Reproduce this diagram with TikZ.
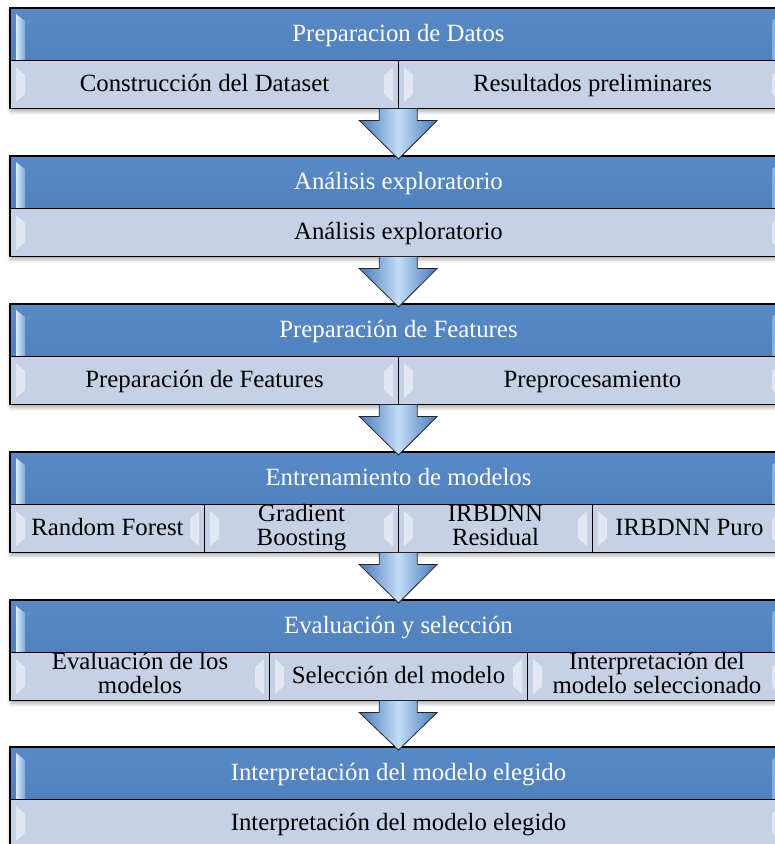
\documentclass[tikz,border=0pt]{standalone}
\usepackage{fontspec}
\setmainfont{Liberation Serif}
\usetikzlibrary{calc,shadows.blur}
\definecolor{hdrblue}{HTML}{4F81BD}
\definecolor{hdrtop}{HTML}{5A8AC5}
\definecolor{subfill}{HTML}{C6D1E6}
\definecolor{hllight}{HTML}{DCEBFB}
\definecolor{hldark}{HTML}{7FA8DA}
\definecolor{arrblue}{HTML}{4676BA}
\definecolor{arrlight}{HTML}{C3DDF7}
\newcommand\txtfont{\fontsize{24.8}{24}\selectfont}
\tikzset{
 blockbg/.style={fill=subfill, minimum width=776pt, minimum height=100pt, anchor=north west, inner sep=0pt,
   blur shadow={shadow xshift=0.5pt, shadow yshift=-3pt, shadow blur radius=4pt, shadow opacity=35}},
 outerframe/.style={draw=black, line width=1.7pt},
 hdr/.style={draw=black, line width=1pt, top color=hdrtop, bottom color=hdrblue, text=white,
   minimum width=776pt, minimum height=52pt, anchor=north west, inner sep=0pt, font=\txtfont,
   text height=19pt, text depth=5pt},
 subbox/.style={draw=black, line width=1pt, fill=subfill, text=black, minimum height=48pt,
   anchor=north west, inner sep=0pt, align=center, font=\txtfont,
   execute at begin node=\strut, execute at end node=\strut},
 oneline/.style={draw=black, line width=1pt, fill=subfill, text=black, minimum height=48pt,
   anchor=north west, inner sep=0pt, font=\txtfont, text height=19pt, text depth=5pt},
 hlbar/.style={left color=hllight, right color=hldark, draw=none},
 hlbarR/.style={left color=hldark, right color=hllight, draw=none},
 chev/.style={fill=white, fill opacity=0.5, draw=none},
 bigarrow/.style={draw=black!85, line width=0.8pt, left color=arrblue, right color=arrblue,
   middle color=arrlight, line join=miter},
}
\newcommand\hlLR[1]{%
 \path[hlbar] ($(#1.north west)+(6,6)$) -- ($(#1.north west)+(15,13)$) -- ($(#1.south west)+(15,-1)$) -- ($(#1.south west)+(6,-1)$) -- cycle;
 \path[hlbarR] ($(#1.north east)+(-6,6)$) -- ($(#1.north east)+(-15,13)$) -- ($(#1.south east)+(-15,-1)$) -- ($(#1.south east)+(-6,-1)$) -- cycle;}
\newcommand\chevLR[1]{%
 \path[chev] ($(#1.north west)+(6,7)$) -- ($(#1.north west)+(15,15)$) -- ($(#1.south west)+(15,-15)$) -- ($(#1.south west)+(6,-7)$) -- cycle;
 \path[chev] ($(#1.north east)+(-6,7)$) -- ($(#1.north east)+(-15,15)$) -- ($(#1.south east)+(-15,-15)$) -- ($(#1.south east)+(-6,-7)$) -- cycle;}
\newcommand\blockhead[3]{%
 \node[blockbg] (b#1) at (10,#2) {};
 \node[hdr] (h#1) at (10,#2) {#3};
 \hlLR{h#1}}
\newcommand\blockframe[1]{\draw[outerframe] (b#1.north west) rectangle (b#1.south east);}
\newcommand\flowarrow[2]{%
 \draw[bigarrow] ($(b#1.south)+(-19,0)$) -- ($(b#1.south)+(-19,12)$) -- ($(b#1.south)+(-39,12)$)
   -- ($(h#2.north)+(0,3)$) -- ($(b#1.south)+(39,12)$) -- ($(b#1.south)+(19,12)$)
   -- ($(b#1.south)+(19,0)$) -- cycle;}
\begin{document}
\begin{tikzpicture}[x=1pt,y=-1pt]
\useasboundingbox (0,0) rectangle (775,844);
\clip (0,0) rectangle (775,844);
% Block 1
\blockhead{1}{8}{Preparacion de Datos}
\node[oneline, minimum width=388pt] (s1a) at (10,60) {Construcción del Dataset};
\node[oneline, minimum width=388pt] (s1b) at (398,60) {Resultados preliminares};
\chevLR{s1a}\chevLR{s1b}
\blockframe{1}
% Block 2
\blockhead{2}{156}{Análisis exploratorio}
\node[oneline, minimum width=776pt] (s2a) at (10,208) {Análisis exploratorio};
\chevLR{s2a}
\blockframe{2}
% Block 3
\blockhead{3}{304}{Preparación de Features}
\node[oneline, minimum width=388pt] (s3a) at (10,356) {Preparación de Features};
\node[oneline, minimum width=388pt] (s3b) at (398,356) {Preprocesamiento};
\chevLR{s3a}\chevLR{s3b}
\blockframe{3}
% Block 4
\blockhead{4}{452}{Entrenamiento de modelos}
\node[oneline, minimum width=194pt] (s4a) at (10,504) {Random Forest};
\node[subbox, minimum width=194pt] (s4b) at (204,504) {Gradient\\Boosting};
\node[subbox, minimum width=194pt] (s4c) at (398,504) {IRBDNN\\Residual};
\node[oneline, minimum width=194pt] (s4d) at (592,504) {IRBDNN Puro};
\chevLR{s4a}\chevLR{s4b}\chevLR{s4c}\chevLR{s4d}
\blockframe{4}
% Block 5
\blockhead{5}{600}{Evaluación y selección}
\node[subbox, minimum width=259pt] (s5a) at (10,652) {Evaluación de los\\modelos};
\node[oneline, minimum width=258pt] (s5b) at (269,652) {Selección del modelo};
\node[subbox, minimum width=259pt] (s5c) at (527,652) {Interpretación del\\modelo seleccionado};
\chevLR{s5a}\chevLR{s5b}\chevLR{s5c}
\blockframe{5}
% Block 6
\blockhead{6}{747}{Interpretación del modelo elegido}
\node[oneline, minimum width=776pt] (s6a) at (10,799) {Interpretación del modelo elegido};
\chevLR{s6a}
\blockframe{6}
% Arrows
\flowarrow{1}{2}
\flowarrow{2}{3}
\flowarrow{3}{4}
\flowarrow{4}{5}
\flowarrow{5}{6}
\end{tikzpicture}
\end{document}
